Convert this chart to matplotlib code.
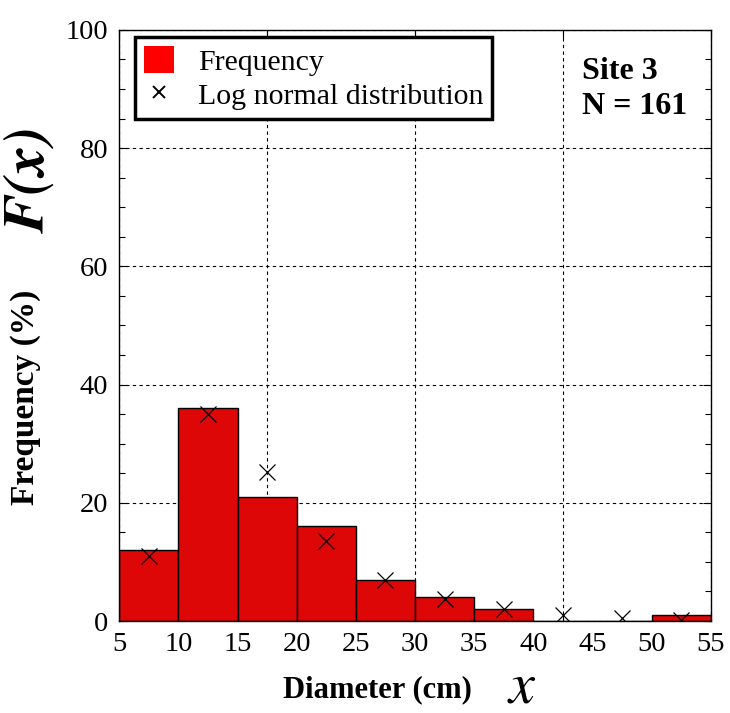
import matplotlib
matplotlib.use("Agg")
import matplotlib.pyplot as plt
import numpy as np
from matplotlib.patches import Patch
from matplotlib.lines import Line2D

# histogram bins (left edges, cm) and frequencies (%)
bin_left = [5, 10, 15, 20, 25, 30, 35, 40, 45, 50]
freq = [12, 36, 21, 16, 7, 4, 2, 0, 0, 1]

# log-normal fit at bin midpoints
mid = [7.5, 12.5, 17.5, 22.5, 27.5, 32.5, 37.5, 42.5, 47.5, 52.5]
lognorm = [11.0, 35.0, 25.2, 13.6, 7.0, 3.7, 2.0, 1.0, 0.5, 0.2]

xlabels = [5, 10, 15, 20, 25, 30, 35, 40, 45, 50, 55]
xgrid = [5, 17.5, 30, 42.5, 55]

SERIF = ["Liberation Serif", "DejaVu Serif"]

fig = plt.figure(figsize=(7.30, 7.13), dpi=100)
ax = fig.add_axes([0.1634, 0.129, 0.8102, 0.829])

ax.bar(bin_left, freq, width=5, align="edge", color="#dd0707",
       edgecolor="black", linewidth=1.0, zorder=2)
ax.plot(mid, lognorm, "x", color="black", markersize=11, markeredgewidth=0.9,
        zorder=3)

ax.set_xlim(5, 55)
ax.set_ylim(0, 100)

# grid ticks (x) - no labels; labels every 5 without tick marks
ax.xaxis.remove_overlapping_locs = False
ax.set_xticks(xgrid)
ax.set_xticklabels([])
ax.set_xticks(xlabels, minor=True)
ax.set_xticklabels([str(v) for v in xlabels], minor=True, fontfamily=SERIF,
                   fontsize=20.5)
ax.tick_params(axis="x", which="major", direction="in", length=6, top=True,
               width=0.8)
ax.tick_params(axis="x", which="minor", length=0, pad=8)

ax.set_yticks(np.arange(0, 101, 20))
ax.set_yticks(np.arange(0, 101, 5), minor=True)
ax.set_yticklabels([str(v) for v in range(0, 101, 20)], fontfamily=SERIF,
                   fontsize=20.5)
ax.tick_params(axis="y", which="both", direction="in", right=True, width=0.8)
ax.tick_params(axis="y", which="major", length=6, pad=8)
ax.tick_params(axis="y", which="minor", length=4)

ax.grid(True, which="major", color="black", linestyle=(0, (3, 3)),
        linewidth=0.8, zorder=1)
ax.set_axisbelow(True)
for s in ax.spines.values():
    s.set_linewidth(1.0)

handles = [Patch(facecolor="red", edgecolor="none"),
           Line2D([], [], marker="x", color="black", linestyle="none",
                  markersize=9, markeredgewidth=1.4)]
leg = ax.legend(handles, ["Frequency", "Log normal distribution"],
                loc="upper left", bbox_to_anchor=(0.027, 0.988),
                borderaxespad=0, fancybox=False, framealpha=1,
                prop={"family": SERIF, "size": 21.5},
                handlelength=1.0, handleheight=1.0, handletextpad=0.8,
                borderpad=0.3, labelspacing=0.15)
leg.get_frame().set_edgecolor("black")
leg.get_frame().set_linewidth(2.5)

ax.text(0.783, 0.955, "Site 3\nN = 161", transform=ax.transAxes,
        fontfamily=SERIF, fontweight="bold", fontsize=23, va="top",
        ha="left", linespacing=1.3)

# axis labels
fig.text(0.035, 0.443, "Frequency (%)", rotation=90, ha="center",
         va="center", fontfamily=SERIF, fontweight="bold", fontsize=24)
fig.text(0.042, 0.748, "F(x)", rotation=90, ha="center", va="center",
         fontfamily="STIXGeneral", fontstyle="italic", fontweight="bold",
         fontsize=42)
fig.text(0.517, 0.033, "Diameter (cm)", ha="center", va="center",
         fontfamily=SERIF, fontweight="bold", fontsize=22)
fig.text(0.715, 0.035, "x", ha="center", va="center",
         fontfamily="STIXGeneral", fontstyle="italic", fontsize=42)

fig.savefig("out.png", dpi=100)
